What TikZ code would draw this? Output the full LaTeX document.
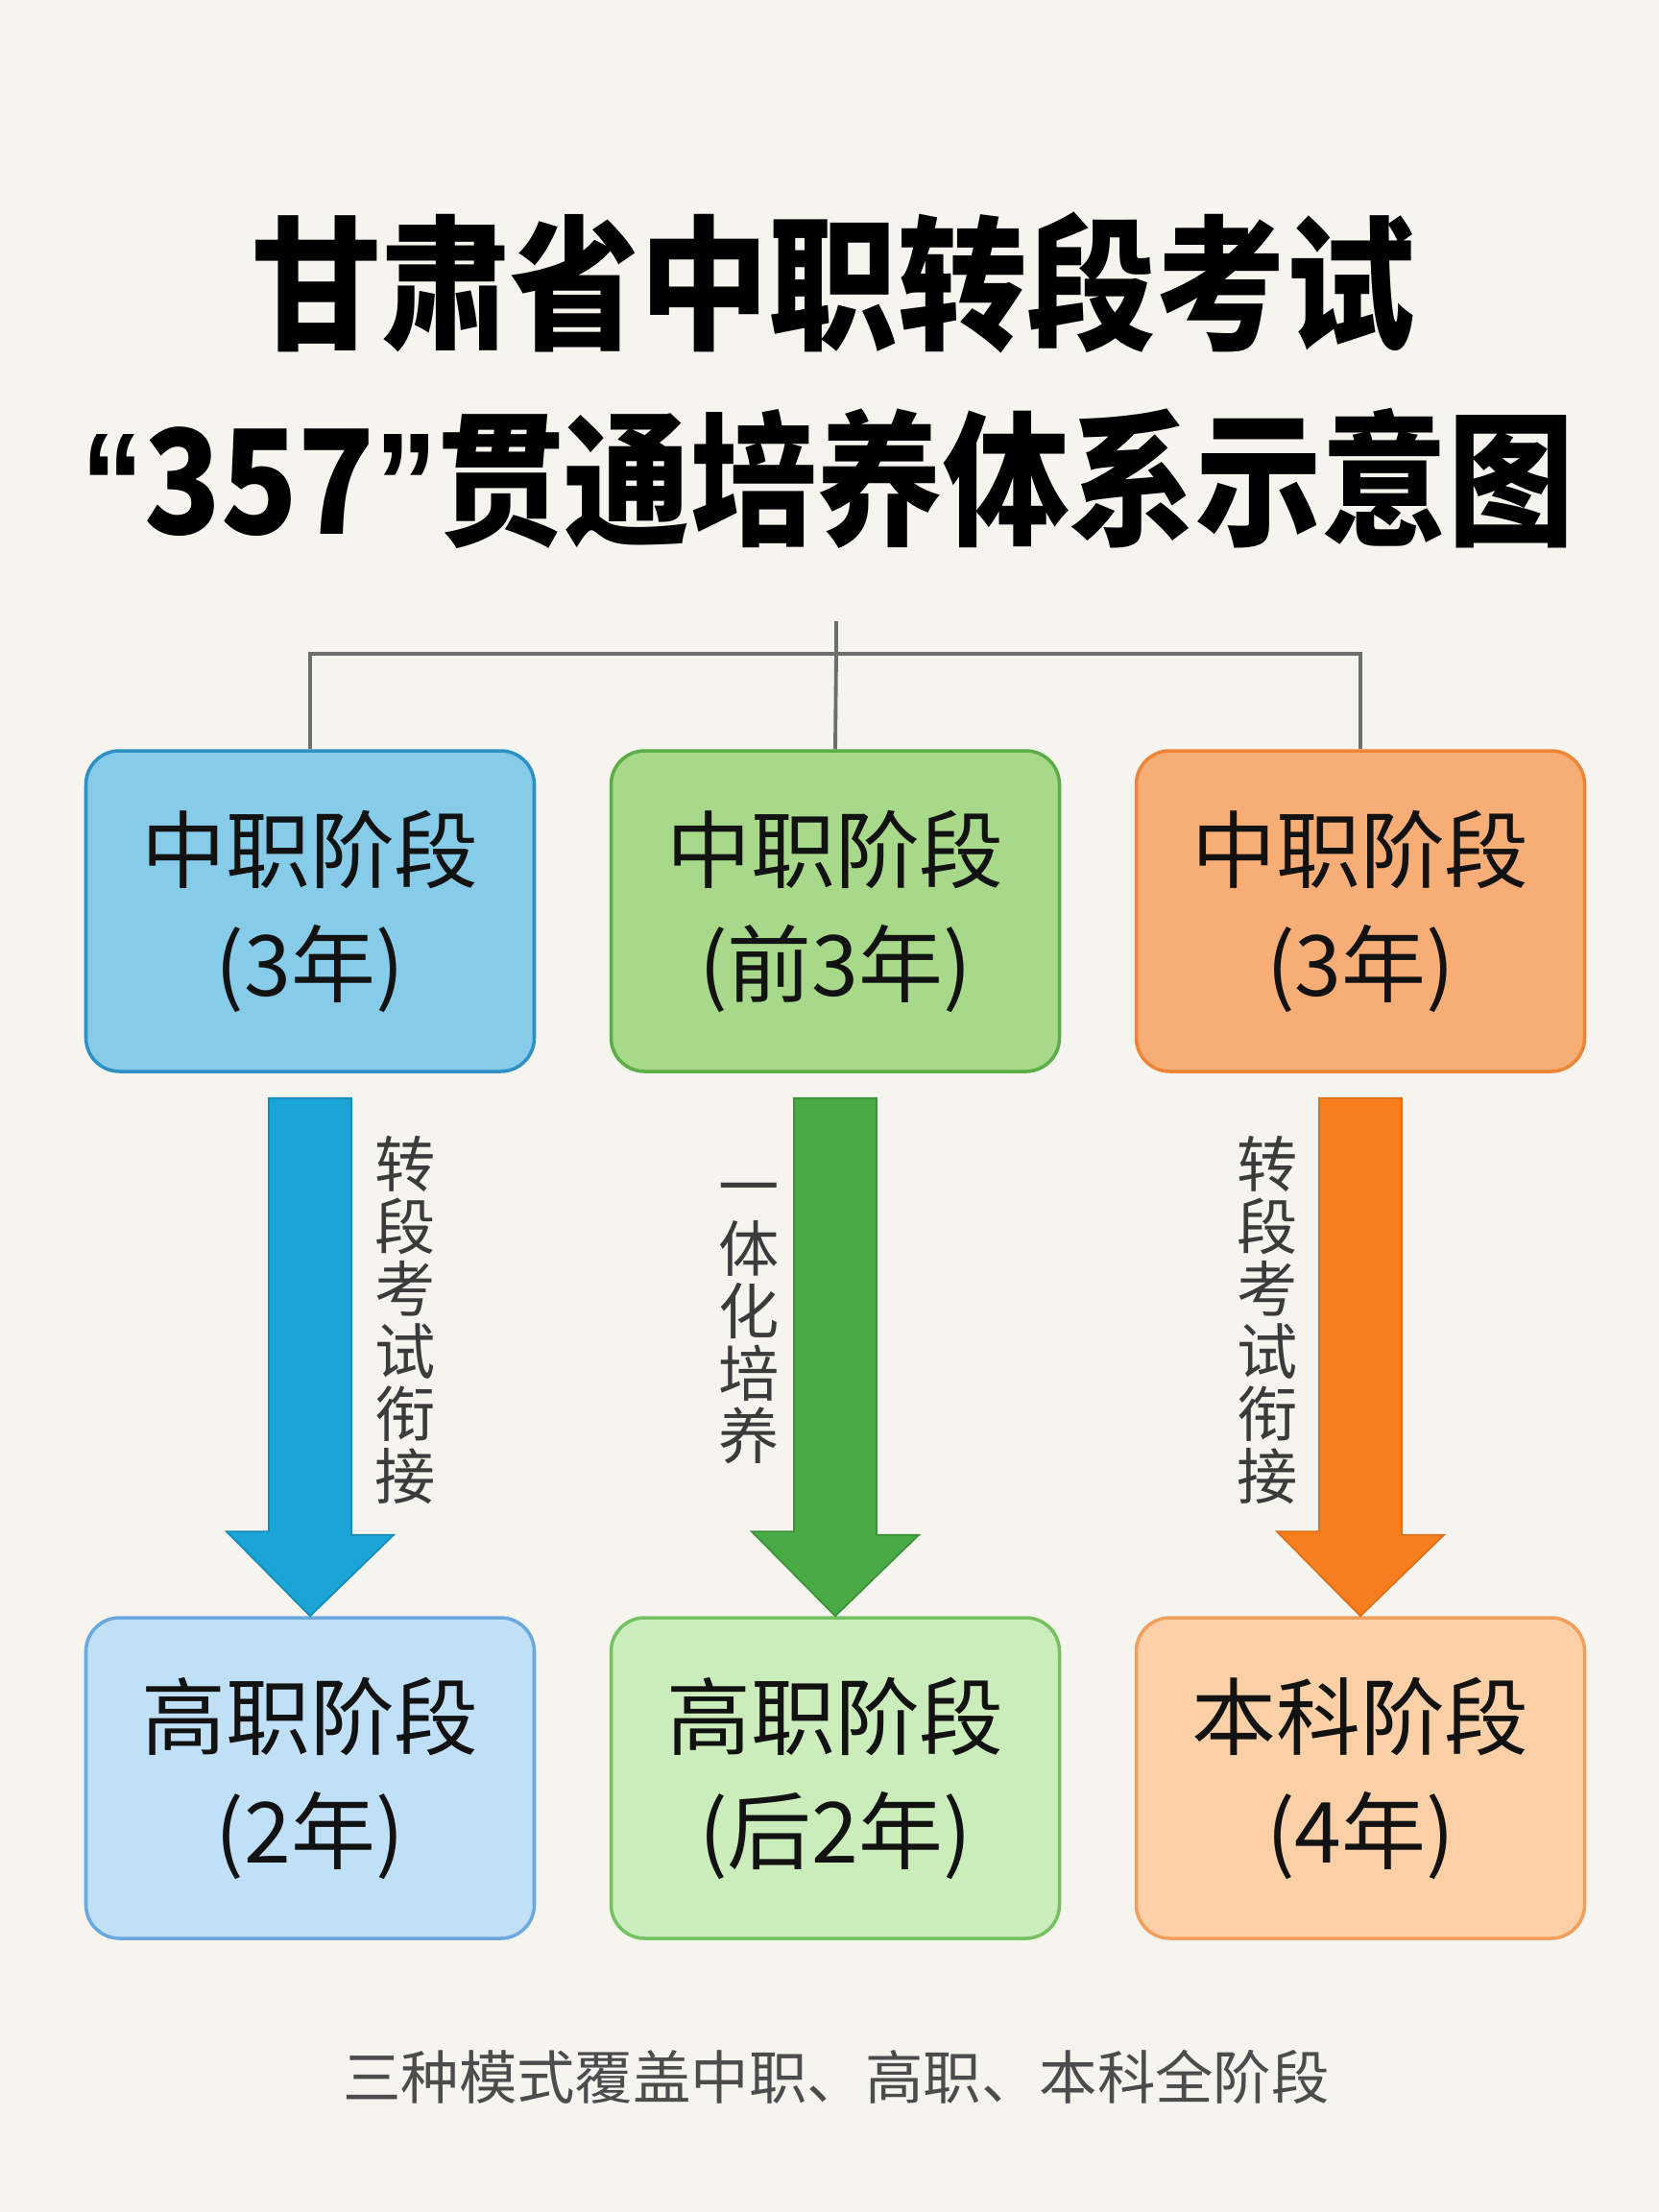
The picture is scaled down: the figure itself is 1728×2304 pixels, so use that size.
\documentclass[tikz,border=0pt]{standalone}
\usepackage{fontspec}
\setmainfont{Noto Sans CJK SC}
\newfontfamily\quotefont{Liberation Sans}
\usetikzlibrary{calc}
\definecolor{paperWhite}{rgb}{0.965, 0.957, 0.937}
\definecolor{topBlue}{rgb}{0.525, 0.796, 0.910}
\definecolor{topBlueEdge}{rgb}{0.180, 0.560, 0.770}
\definecolor{topGreen}{rgb}{0.659, 0.851, 0.541}
\definecolor{topGreenEdge}{rgb}{0.357, 0.682, 0.271}
\definecolor{topOrange}{rgb}{0.965, 0.682, 0.463}
\definecolor{topOrangeEdge}{rgb}{0.933, 0.522, 0.208}
\definecolor{botBlue}{rgb}{0.749, 0.878, 0.969}
\definecolor{botBlueEdge}{rgb}{0.416, 0.659, 0.871}
\definecolor{botGreen}{rgb}{0.796, 0.929, 0.733}
\definecolor{botGreenEdge}{rgb}{0.455, 0.761, 0.373}
\definecolor{botOrange}{rgb}{0.984, 0.816, 0.655}
\definecolor{botOrangeEdge}{rgb}{0.941, 0.627, 0.361}
\definecolor{arrowBlue}{rgb}{0.102, 0.647, 0.839}
\definecolor{arrowGreen}{rgb}{0.282, 0.671, 0.271}
\definecolor{arrowOrange}{rgb}{0.965, 0.494, 0.118}
\definecolor{linkGray}{rgb}{0.43, 0.43, 0.43}
\definecolor{labelGray}{rgb}{0.23, 0.23, 0.23}
\definecolor{footGray}{rgb}{0.30, 0.30, 0.30}

\begin{document}
\begin{tikzpicture}[x=0.1mm, y=-0.1mm,
    stagebox/.style={draw, line width=1pt, rounded corners=3.5mm, minimum width=46.7mm,
        minimum height=33.4mm, align=center, text=black!93,
        font=\fontsize{25pt}{33.9pt}\selectfont},
    link/.style={draw=linkGray, line width=1.1pt},
    sidelabel/.style={align=center, text=labelGray, font=\fontsize{18pt}{18.5pt}\selectfont},
    fatarrow/.style={line width=0.5pt, line join=miter},
    titletext/.style={font=\fontsize{43pt}{43pt}\selectfont\bfseries}]

            \fill[paperWhite] (0,0) rectangle (1728,2304);
            \useasboundingbox (0,0) rectangle (1728,2304);

            % title
            \node[titletext] (title1) at (868,294) {\scalebox{0.891}[1]{甘肃省中职转段考试}};
            \node[titletext] (title2) at (862,498) {\scalebox{0.87}[1]{{\quotefont “}357{\quotefont ”}贯通培养体系示意图}};

            % upper stages
            \node[stagebox, fill=topBlue, draw=topBlueEdge] (zhong1) at (323,949) {中职阶段\\(3年)};
            \node[stagebox, fill=topGreen, draw=topGreenEdge] (zhong2) at (870,949) {中职阶段\\(前3年)};
            \node[stagebox, fill=topOrange, draw=topOrangeEdge] (zhong3) at (1417,949) {中职阶段\\(3年)};

            % tree on top
            \coordinate (root) at (871,647);
            \draw[link] (root) -- ++(0,34) coordinate (hub);
            \draw[link] (zhong1.north) |- (hub) -| (zhong3.north);
            \draw[link] (hub) -- (zhong2.north);

            % lower stages
            \node[stagebox, fill=botBlue, draw=botBlueEdge] (gao1) at (323,1852) {高职阶段\\(2年)};
            \node[stagebox, fill=botGreen, draw=botGreenEdge] (gao2) at (870,1852) {高职阶段\\(后2年)};
            \node[stagebox, fill=botOrange, draw=botOrangeEdge] (benke) at (1417,1852) {本科阶段\\(4年)};

            % arrows
            \draw[fatarrow, fill=arrowBlue, draw=arrowBlue!85!black]
                ($(zhong1.south)+(-43,26)$) -- ++(86,0) -- ++(0,455) -- ++(44,0)
                -- (gao1.north) -- ++(-87,-88) -- ++(44,0) -- cycle;
            \draw[fatarrow, fill=arrowGreen, draw=arrowGreen!85!black]
                ($(zhong2.south)+(-43,26)$) -- ++(86,0) -- ++(0,455) -- ++(44,0)
                -- (gao2.north) -- ++(-87,-88) -- ++(44,0) -- cycle;
            \draw[fatarrow, fill=arrowOrange, draw=arrowOrange!90!black]
                ($(zhong3.south)+(-43,26)$) -- ++(86,0) -- ++(0,455) -- ++(44,0)
                -- (benke.north) -- ++(-87,-88) -- ++(44,0) -- cycle;

            % arrow labels
            \node[sidelabel] (exam1) at (422,1375) {转\\段\\考\\试\\衔\\接};
            \node[sidelabel] (joint) at (780,1379) {一\\体\\化\\培\\养};
            \node[sidelabel] (exam2) at (1320,1375) {转\\段\\考\\试\\衔\\接};

            % footer
            \node[text=footGray, font=\fontsize{17.2pt}{17.2pt}\selectfont] (note) at (871,2163)
                {三种模式覆盖中职、高职、本科全阶段};

        \end{tikzpicture}
\end{document}
